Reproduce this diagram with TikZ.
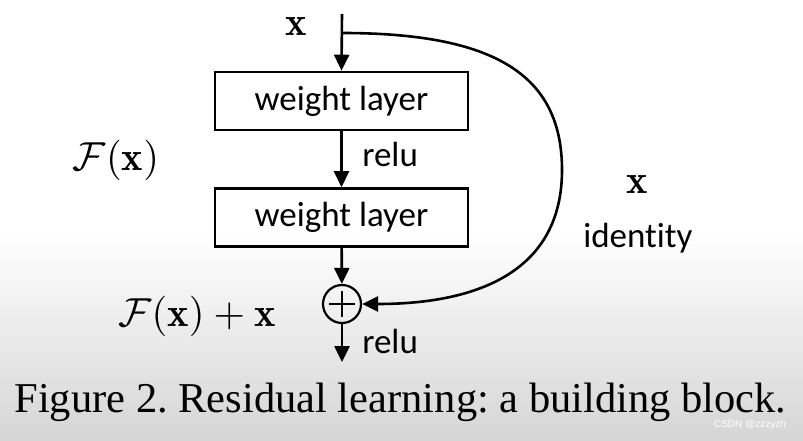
\documentclass[tikz,border=0pt]{standalone}
\usepackage{amsmath,amssymb}
\usepackage{graphicx}
\usepackage{fontspec}
\newfontfamily\labelfont[Ligatures=NoCommon]{Carlito}
\newfontfamily\capfont{Liberation Serif}
\newfontfamily\markfont{Liberation Sans}
\newcommand{\bigmath}[1]{\scalebox{4.05}{$#1$}}
\frenchspacing
\usepackage{tikz}
\usetikzlibrary{arrows.meta,positioning}

\begin{document}
\begin{tikzpicture}[x=1pt,y=-1pt,>={Triangle[length=16pt,width=15pt]},line width=2.6pt,
  wbox/.style={draw,minimum width=253pt,minimum height=58pt,inner sep=0pt,font=\labelfont\fontsize{35}{40}\selectfont},
  sumnode/.style={draw,circle,minimum size=38pt,inner sep=0pt,line width=2.2pt,
    path picture={\draw[line width=2.2pt] ([xshift=-13pt]path picture bounding box.center) -- ([xshift=13pt]path picture bounding box.center);
      \draw[line width=2.2pt] ([yshift=-13pt]path picture bounding box.center) -- ([yshift=13pt]path picture bounding box.center);}},
  lab/.style={inner sep=0pt,font=\labelfont\fontsize{35}{40}\selectfont},
  mlab/.style={inner sep=0pt}]
% background
\fill[white] (0,0) rectangle (803,441);
\shade[top color=white,bottom color=gray!33] (0,235) rectangle (803,441);
\useasboundingbox (0,0) rectangle (803,441);

\coordinate (in) at (342,14);
\coordinate (split) at (342,33);
\coordinate (bend) at (562,170);
\coordinate (out) at (342,362);
\node[wbox] (w1) at (341.5,101) {weight layer};
\node[wbox] (w2) at (341.5,217.5) {weight layer};
\node[sumnode] (add) at (342,304) {};

\draw[->] (in) -- (w1.north);
\draw[->] (w1) -- (w2);
\draw[->] (w2) -- (add);
\draw[->] (add) -- (out);
\draw[->] (split) .. controls (495,33) and (562,75) .. (bend)
  .. controls (562,270) and (480,304) .. (add.east);

\node[lab,anchor=base west] (relu1) at (361,166) {relu};
\node[lab,anchor=base west] (relu2) at (361,353) {relu};
\node[lab,anchor=base west] (ident) at (582,247) {identity};
\node[mlab] (xin) at (296,27) {\bigmath{\mathbf{x}}};
\node[mlab] (xid) at (637,185) {\bigmath{\mathbf{x}}};
\node[mlab] (fx) at (116,160) {\bigmath{\mathcal{F}(\mathbf{x})}};
\node[mlab] (fxx) at (197,316) {\bigmath{\mathcal{F}(\mathbf{x})+\mathbf{x}}};

\node[inner sep=0pt,anchor=base,font=\capfont\fontsize{42.5}{48}\selectfont] (cap) at (400.5,412)
  {Figure 2. Residual learning: a building block.};
\node[inner sep=0pt,font=\markfont\fontsize{10}{12}\selectfont,text=white] (mark) at (750,425) {CSDN @zzzyzh};
\end{tikzpicture}
\end{document}
